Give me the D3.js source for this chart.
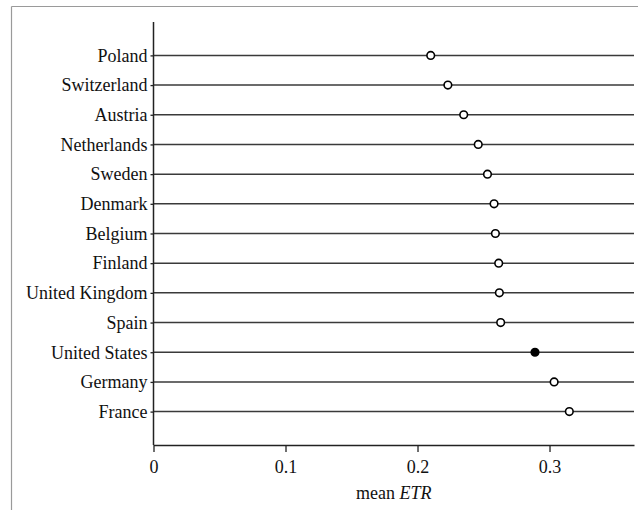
<!DOCTYPE html>
<html>
<head>
<meta charset="utf-8">
<script src="https://cdn.jsdelivr.net/npm/d3@7"></script>
<style>
  html, body { margin: 0; padding: 0; background: #fff; }
  svg { display: block; }
  text { font-family: "Liberation Serif", "Times New Roman", serif; fill: #111; }
</style>
</head>
<body>
<svg id="chart" width="638" height="510"></svg>
<script>
// Countries, top to bottom
const countries = ["Poland", "Switzerland", "Austria", "Netherlands", "Sweden", "Denmark",
  "Belgium", "Finland", "United Kingdom", "Spain", "United States", "Germany", "France"];
// Mean effective tax rate per country
const meanETR = [0.210, 0.223, 0.235, 0.246, 0.253, 0.258,
  0.259, 0.2615, 0.262, 0.263, 0.289, 0.3035, 0.315];
// Highlighted (filled) country
const highlighted = ["United States"];
// X axis ticks
const xTicks = [0, 0.1, 0.2, 0.3];

const svg = d3.select("#chart");
const W = 638, H = 510;
const plotLeft = 153.5, plotRight = 634, plotTop = 22, plotBottom = 445;

// Outer frame (top and left edges)
svg.append("line").attr("x1", 11.5).attr("x2", W).attr("y1", 6.5).attr("y2", 6.5)
  .attr("stroke", "#9a9a9a").attr("stroke-width", 1.2);
svg.append("line").attr("x1", 11.5).attr("x2", 11.5).attr("y1", 6.5).attr("y2", H)
  .attr("stroke", "#9a9a9a").attr("stroke-width", 1.2);

const x = d3.scaleLinear().domain([0, 0.364]).range([plotLeft, plotRight]);
const y = d3.scalePoint().domain(countries).range([plotTop, plotBottom]).padding(1.125);

const data = countries.map((c, i) => ({ country: c, value: meanETR[i] }));

// Row lines
svg.append("g").selectAll("line").data(data).join("line")
  .attr("x1", plotLeft).attr("x2", plotRight)
  .attr("y1", d => y(d.country)).attr("y2", d => y(d.country))
  .attr("stroke", "#3a3a3a").attr("stroke-width", 1.5);

// Y axis
const yAxis = svg.append("g").attr("transform", `translate(${plotLeft},0)`)
  .call(d3.axisLeft(y).tickSize(3).tickPadding(3));
yAxis.select(".domain").attr("d", `M0,${plotTop}V${plotBottom}`).attr("stroke", "#222").attr("stroke-width", 1.5);
yAxis.selectAll(".tick line").attr("stroke", "#222").attr("stroke-width", 1.3);
yAxis.selectAll(".tick text").attr("font-size", 18)
  .style("font-family", "'Liberation Serif', serif").attr("fill", "#111");

// X axis
const xAxis = svg.append("g").attr("transform", `translate(0,${plotBottom})`)
  .call(d3.axisBottom(x).tickValues(xTicks).tickFormat(d => d === 0 ? "0" : d3.format(".1f")(d))
    .tickSize(7).tickPadding(8).tickSizeOuter(0));
xAxis.select(".domain").attr("stroke", "#222").attr("stroke-width", 1.5);
xAxis.selectAll(".tick line").attr("stroke", "#222").attr("stroke-width", 1.3);
xAxis.selectAll(".tick text").attr("font-size", 18)
  .style("font-family", "'Liberation Serif', serif").attr("fill", "#111");

// X axis title
const title = svg.append("text").attr("x", (plotLeft + plotRight) / 2).attr("y", 499)
  .attr("text-anchor", "middle").attr("font-size", 18);
title.append("tspan").text("mean ");
title.append("tspan").attr("font-style", "italic").text("ETR");

// Points
svg.append("g").selectAll("circle").data(data).join("circle")
  .attr("cx", d => x(d.value)).attr("cy", d => y(d.country))
  .attr("r", 3.8)
  .attr("fill", d => highlighted.includes(d.country) ? "#000" : "#fff")
  .attr("stroke", "#000").attr("stroke-width", 1.6);
</script>
</body>
</html>
